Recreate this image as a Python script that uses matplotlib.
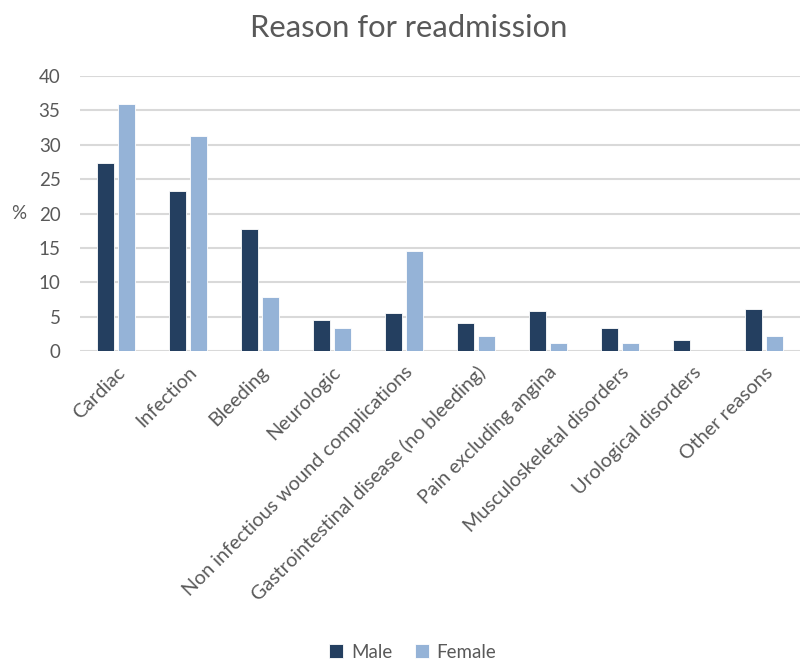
import matplotlib
matplotlib.use("Agg")
import matplotlib.pyplot as plt
import numpy as np

plt.rcParams['font.family'] = ['Lato', 'DejaVu Sans']

categories = ["Cardiac", "Infection", "Bleeding", "Neurologic",
              "Non infectious wound complications",
              "Gastrointestinal disease (no bleeding)",
              "Pain excluding angina", "Musculoskeletal disorders",
              "Urological disorders", "Other reasons"]
male = [27.4, 23.3, 17.7, 4.5, 5.5, 4.1, 5.8, 3.3, 1.6, 6.1]
female = [35.9, 31.3, 7.8, 3.4, 14.5, 2.2, 1.1, 1.1, 0.0, 2.2]
yticks = [0, 5, 10, 15, 20, 25, 30, 35, 40]

male_color = "#243F60"
female_color = "#95B3D7"
text_color = "#595959"
grid_color = "#D9D9D9"

fig = plt.figure(figsize=(8.01, 6.61), dpi=100)
ax = fig.add_axes([0.0999, 0.469, 0.899, 0.416])

x = np.arange(len(categories))
w = 0.23
gap = 0.06
ax.bar(x - (w + gap) / 2, male, width=w, color=male_color,
       edgecolor="white", linewidth=0.6, label="Male", zorder=3)
ax.bar(x + (w + gap) / 2, female, width=w, color=female_color,
       edgecolor="white", linewidth=0.6, label="Female", zorder=3)

ax.set_xlim(-0.5, len(categories) - 0.5)
ax.set_ylim(0, 40)
ax.set_yticks(yticks)
ax.set_yticklabels([str(t) for t in yticks], fontsize=13.5, color=text_color)
ax.yaxis.grid(True, color=grid_color, linewidth=1.5, zorder=0)
ax.set_axisbelow(True)
for s in ax.spines.values():
    s.set_visible(False)
ax.tick_params(axis='both', length=0)
ax.tick_params(axis='y', pad=14)

ax.set_xticks(x)
ax.set_xticklabels(categories, rotation=45, ha='right', rotation_mode='anchor',
                   fontsize=14.2, color=text_color)
ax.tick_params(axis='x', pad=9)

ax.set_ylabel("%", rotation=0, fontsize=13.5, color=text_color)
ax.yaxis.set_label_coords(-0.085, 0.47)

fig.text(0.51, 1 - 28 / 661, "Reason for readmission", fontsize=22.3,
         color=text_color, ha='center', va='center')

fig.legend(loc='lower center', ncol=2, frameon=False, fontsize=13.5,
           labelcolor=text_color, bbox_to_anchor=(0.515, -0.025),
           handlelength=0.75, handleheight=0.75, handletextpad=0.4,
           columnspacing=1.2)

fig.savefig("out.png", dpi=100)
